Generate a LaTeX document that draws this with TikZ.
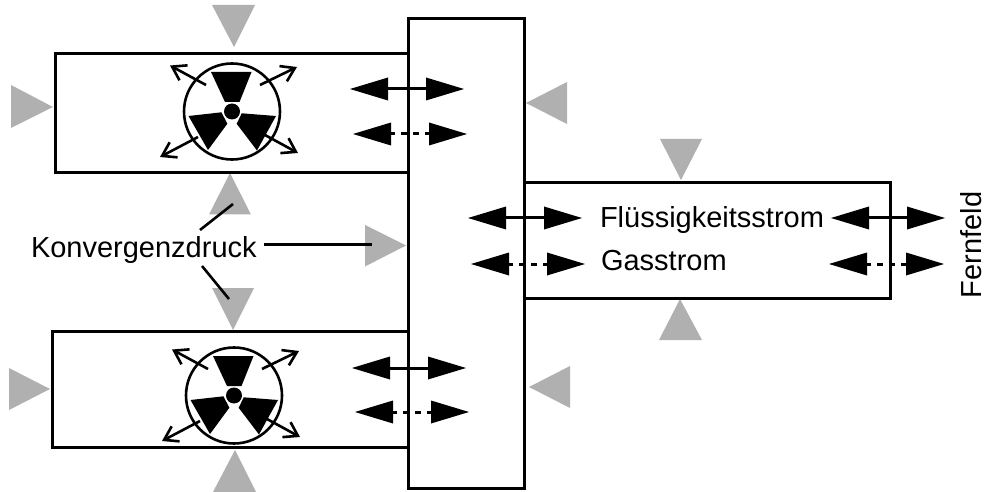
\documentclass[tikz,border=0pt]{standalone}
\usepackage{fontspec}
\setmainfont{Liberation Sans}
\usetikzlibrary{arrows.meta}
\tikzset{
  wall/.style={draw=black,line width=3pt,fill=none,inner sep=0pt,outer sep=0pt},
  gray tri/.style={fill=black!31,draw=none},
  label text/.style={inner sep=0pt,outer sep=0pt,font=\fontsize{29}{32}\selectfont},
  flow/.style={line width=3pt,{Triangle[length=38pt,width=23pt,line width=0pt]}-{Triangle[length=38pt,width=23pt,line width=0pt]}},
  gasflow/.style={flow,dash pattern=on 6pt off 6pt,dash phase=2pt},
  leader/.style={line width=2.6pt},
  blade/.style={fill=black,draw=none},
  burst/.style={line width=2.6pt,-{Straight Barb[length=13pt,width=17pt,line width=2.6pt]}},
  source/.pic={
    \node[circle,draw=black,line width=2.6pt,minimum size=96pt,inner sep=0pt,outer sep=0pt] (-disc) at (0,0) {};
    \node[circle,fill=black,minimum size=16pt,inner sep=0pt,outer sep=0pt] (-hub) at (0,0) {};
    \fill[blade] (-21,-39.5) -- (19.5,-39.5) -- (7.5,-9.5) -- (-7,-9.5) -- cycle;
    \fill[blade] (-43.5,4.5) -- (-10.5,0.8) -- (-4.7,12.3) -- (-24,38.5) -- cycle;
    \fill[blade] (44,4.5) -- (9.7,1.8) -- (4.7,12.3) -- (25,39) -- cycle;
    \coordinate (-a1) at (-26,-26.5); \coordinate (-b1) at (-62,-46);
    \coordinate (-a2) at (28,-26.5);  \coordinate (-b2) at (65,-44.5);
    \coordinate (-a3) at (-34,25.5);  \coordinate (-b3) at (-72,45.5);
    \coordinate (-a4) at (33,23.5);   \coordinate (-b4) at (66,41.5);
    \draw[burst] (-a1) -- (-b1);
    \draw[burst] (-a2) -- (-b2);
    \draw[burst] (-a3) -- (-b3);
    \draw[burst] (-a4) -- (-b4);
  }
}
\begin{document}
\begin{tikzpicture}[x=1pt,y=-1pt]
\useasboundingbox (0,0) rectangle (986,492);
% gray triangles
\fill[gray tri] (212,5) -- (255,5) -- (234,47) -- cycle;
\fill[gray tri] (11,85) -- (11,128) -- (53,107) -- cycle;
\fill[gray tri] (567,82) -- (567,124) -- (526,103) -- cycle;
\fill[gray tri] (660,139) -- (702,139) -- (681,180) -- cycle;
\fill[gray tri] (659,340) -- (702,340) -- (680,299) -- cycle;
\fill[gray tri] (209,214.5) -- (251,214.5) -- (230,173) -- cycle;
\fill[gray tri] (212,288) -- (254,288) -- (233,330) -- cycle;
\fill[gray tri] (365,225) -- (365,266.5) -- (406,245.5) -- cycle;
\fill[gray tri] (9,368) -- (9,410) -- (50,389) -- cycle;
\fill[gray tri] (570,366) -- (570,408) -- (529,387) -- cycle;
\fill[gray tri] (213,492) -- (256,492) -- (235,450) -- cycle;
% boxes
\node[wall,minimum width=353pt,minimum height=119pt,anchor=north west] (upper) at (55,53.5) {};
\node[wall,minimum width=356pt,minimum height=116pt,anchor=north west] (lower) at (52,331.5) {};
\node[wall,minimum width=116pt,minimum height=470pt,anchor=north west] (centre) at (408,18.5) {};
\node[wall,minimum width=366pt,minimum height=116pt,anchor=north west] (farbox) at (524,182.5) {};
% sources
\pic (s1) at (232,111.5) {source};
\pic (s2) at (234,395.5) {source};
% flow ends
\coordinate (f1a) at (350,89); \coordinate (f1b) at (464,89);
\coordinate (g1a) at (353,134); \coordinate (g1b) at (467,134);
\coordinate (f2a) at (352,368); \coordinate (f2b) at (466,368);
\coordinate (g2a) at (355,412); \coordinate (g2b) at (469,412);
\coordinate (f3a) at (468,218); \coordinate (f3b) at (582,218);
\coordinate (g3a) at (471,264); \coordinate (g3b) at (585,264);
\coordinate (f4a) at (831,218); \coordinate (f4b) at (945,218);
\coordinate (g4a) at (829,264); \coordinate (g4b) at (944,264);
\draw[flow] (f1a) -- (f1b);
\draw[gasflow] (g1a) -- (g1b);
\draw[flow] (f2a) -- (f2b);
\draw[gasflow] (g2a) -- (g2b);
\draw[flow] (f3a) -- (f3b);
\draw[gasflow] (g3a) -- (g3b);
\draw[flow] (f4a) -- (f4b);
\draw[gasflow] (g4a) -- (g4b);
% labels
\node[label text,anchor=base west] (kd) at (31,257) {Konvergenzdruck};
\node[label text,anchor=base west] (fs) at (600,227) {Flüssigkeitsstrom};
\node[label text,anchor=base west] (gs) at (601,270) {Gasstrom};
\node[label text,anchor=base west,rotate=90] (ff) at (981,298) {Fernfeld};
% leaders
\coordinate (l1a) at (200,230); \coordinate (l1b) at (233,204);
\coordinate (l2a) at (202,266); \coordinate (l2b) at (229,299);
\coordinate (l3a) at (264,244.5); \coordinate (l3b) at (372,244.5);
\draw[leader] (l1a) -- (l1b);
\draw[leader] (l2a) -- (l2b);
\draw[leader] (l3a) -- (l3b);
\end{tikzpicture}
\end{document}
